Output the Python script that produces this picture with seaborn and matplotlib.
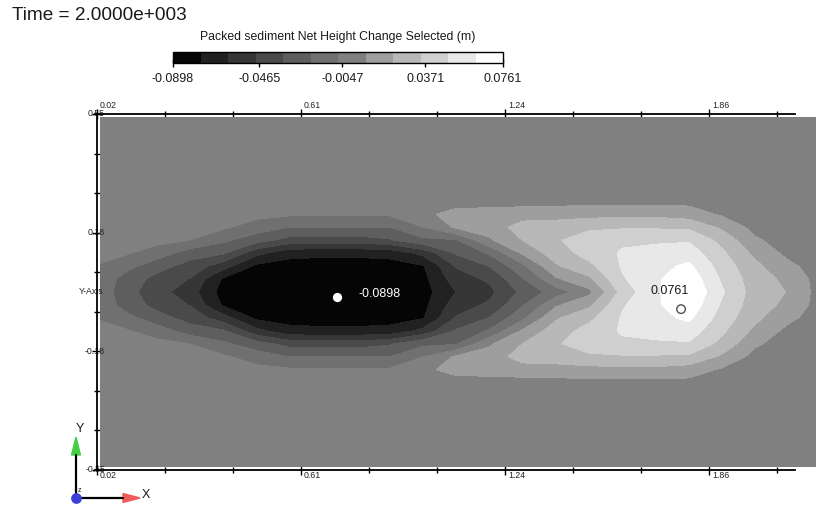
import numpy as np
import matplotlib
matplotlib.use("Agg")
import matplotlib.pyplot as plt
from matplotlib.colors import ListedColormap
import seaborn as sns

sns.set_theme(style="white")
plt.rcParams["font.family"] = ["Liberation Sans", "DejaVu Sans"]

# ---------------------------------------------------------------- data
time_label = "Time = 2.0000e+003"
field_title = "Packed sediment Net Height Change Selected (m)"

# streamwise sample stations (m) and lateral offsets from the centreline (m)
x_cols = [0.03, 0.10, 0.20, 0.30, 0.40, 0.50, 0.60, 0.70, 0.80, 0.90, 1.00, 1.10,
          1.20, 1.30, 1.40, 1.50, 1.60, 1.70, 1.80, 1.90, 2.00, 2.10, 2.20]
y_rows = [0.00, 0.04, 0.08, 0.12, 0.16, 0.20, 0.24, 0.28, 0.32, 0.538]

# extreme values of the net height change (mm)
z_min_mm = -89.8
z_max_mm = 76.1
min_loc = (0.742, -0.016)
max_loc = (1.776, -0.053)

# net height change (mm) along each lateral offset; the bed is symmetric about y = 0
dz_y000 = [-12, -28, -43, -56, -82, -86, -88, z_min_mm, -89, -87, -82, -62,
           -52, -31, -14, 3, 40, 60, z_max_mm, 50, 28, 20, 0]
dz_y004 = [-11, -25, -39, -49, -78, -83, -85, -86, -86, -85, -80, -55,
           -46, -22, 5, 18, 47, 60, 72, 46, 27, 17, 0]
dz_y008 = [-8, -15, -29, -40, -56, -79, -81, -82, -82, -81, -77, -47,
           -34, -10, 19, 31, 50, 58, 65, 42, 24, 10, 0]
dz_y012 = [-2, -5, -13, -28, -33, -58, -72, -73, -73, -72, -58, -33,
           -19, 9, 28, 40, 50, 54, 56, 37, 17, 3, 0]
dz_y016 = [0, -1, -3, -7, -18, -29, -40, -41, -41, -36, -24, -22,
           5, 21, 33, 42, 46, 46, 47, 30, 9, 0, 0]
dz_y020 = [0, 0, 0, -1, -5, -13, -21, -21, -21, -21, -7, 9,
           13, 27, 28, 32, 33, 33, 32, 18, 2, 0, 0]
dz_y024 = [0, 0, 0, 0, 0, -3, -5, -5, -5, -5, 3, 13,
           12, 14, 15, 16, 17, 17, 14, 5, 0, 0, 0]
dz_y028 = [0, 0, 0, 0, 0, 0, 0, 0, 0, 0, 1, 0,
           2, 2, 2, 3, 3, 3, 3, 0, 0, 0, 0]
dz_y032 = [0, 0, 0, 0, 0, 0, 0, 0, 0, 0, 0, 0,
           0, 0, 0, 0, 0, 0, 0, 0, 0, 0, 0]
dz_y054 = [0, 0, 0, 0, 0, 0, 0, 0, 0, 0, 0, 0,
           0, 0, 0, 0, 0, 0, 0, 0, 0, 0, 0]

cbar_ticks = [-0.0898, -0.0465, -0.0047, 0.0371, 0.0761]
x_tick_values = [0.02, 0.6333, 1.2467, 1.86]
x_tick_labels = ["0.02", "0.61", "1.24", "1.86"]
y_tick_values = [0.55, 0.1833, -0.1833, -0.55]
y_tick_labels = ["0.55", "0.18", "-0.18", "-0.55"]

# twelve grey bands, deepest scour (black) to highest deposit (white)
band_grays = [0.02, 0.13, 0.21, 0.29, 0.37, 0.44, 0.50, 0.62, 0.72, 0.81, 0.91, 1.00]

# ---------------------------------------------------------------- grid
upper = np.array([dz_y000, dz_y004, dz_y008, dz_y012, dz_y016, dz_y020,
                  dz_y024, dz_y028, dz_y032, dz_y054], dtype=float) / 1000.0
yr = np.array(y_rows)
Y = np.concatenate([-yr[::-1], yr[1:]])
Z = np.vstack([upper[::-1], upper[1:]])
X = np.array(x_cols)

z_min = z_min_mm / 1000.0
z_max = z_max_mm / 1000.0
levels = np.linspace(z_min, z_max, len(band_grays) + 1)
cmap = ListedColormap([(g, g, g) for g in band_grays])

# ---------------------------------------------------------------- figure
W, H = 816, 508
fig = plt.figure(figsize=(W / 100, H / 100), dpi=100)
fig.patch.set_facecolor("white")

px_per_x = 332.6
ax = fig.add_axes([97 / W, (H - 470) / H, 719 / W, 356 / H])
ax.set_facecolor("white")
cs = ax.contourf(X, Y, Z, levels=levels, cmap=cmap, zorder=1)
ax.set_xlim(0.02, 0.02 + 719 / px_per_x)
ax.set_ylim(-0.55, 0.55)

for side in ["top", "bottom", "left"]:
    ax.spines[side].set_visible(True)
    ax.spines[side].set_color("black")
    ax.spines[side].set_linewidth(1.3)
    ax.spines[side].set_zorder(5)
ax.spines["right"].set_visible(False)
x_end = 0.02 + (795 - 97) / px_per_x
ax.spines["top"].set_bounds(0.014, x_end)
ax.spines["bottom"].set_bounds(0.014, x_end)

step = (x_tick_values[-1] - x_tick_values[0]) / 9
ax.set_xticks(x_tick_values)
ax.set_xticks([x_tick_values[0] + k * step for k in range(11) if k % 3], minor=True)
ystep = (y_tick_values[0] - y_tick_values[-1]) / 9
ax.set_yticks(y_tick_values)
ax.set_yticks([y_tick_values[-1] + k * ystep for k in range(10) if k % 3], minor=True)
ax.tick_params(axis="x", which="both", top=True, bottom=True, direction="inout",
               labelbottom=False, labeltop=False, color="black", width=1)
ax.tick_params(axis="y", which="both", left=True, right=False, direction="inout",
               labelleft=False, color="black", width=1)
ax.tick_params(which="major", length=7)
ax.tick_params(which="minor", length=4)
ax.grid(False)

tick_fs = 6.3
xt = ax.get_xaxis_transform()
yt = ax.get_yaxis_transform()
for v, s in zip(x_tick_values, x_tick_labels):
    ax.text(v + 3 / px_per_x, 1 + 9 / 356, s, transform=xt, ha="left", va="center",
            fontsize=tick_fs, color="#222222", clip_on=False)
    ax.text(v + 3 / px_per_x, -6 / 356, s, transform=xt, ha="left", va="center",
            fontsize=tick_fs, color="#222222", clip_on=False)
for v, s in zip(y_tick_values, y_tick_labels):
    ax.text(8 / 719, v, s, transform=yt, ha="right", va="center",
            fontsize=tick_fs, color="#222222", clip_on=False)
ax.text(6 / 719, 0.0, "Y-Axis", transform=yt, ha="right", va="center",
        fontsize=tick_fs, color="#222222", clip_on=False)

# extreme value markers
ax.scatter([min_loc[0]], [min_loc[1]], s=32, color="white", edgecolor="white", zorder=6)
ax.scatter([max_loc[0]], [max_loc[1]], s=38, facecolor="none", edgecolor="#505050",
           linewidth=1.0, zorder=6)
ax.annotate(f"{z_min:.4f}", xy=min_loc, xytext=(21, 3), textcoords="offset pixels",
            ha="left", va="center", fontsize=9, color="white", zorder=7)
ax.annotate(f"{z_max:.4f}", xy=max_loc, xytext=(-31, 18), textcoords="offset pixels",
            ha="left", va="center", fontsize=9, color="#1a1a1a", zorder=7)

# colour bar
cax = fig.add_axes([173 / W, (H - 63) / H, 330 / W, 11 / H])
cb = fig.colorbar(cs, cax=cax, orientation="horizontal", ticks=cbar_ticks)
cb.set_ticklabels([f"{t:.4f}" for t in cbar_ticks])
cb.outline.set_edgecolor("black")
cb.outline.set_linewidth(1.0)
cax.tick_params(direction="inout", length=6, width=1, color="black",
                labelsize=9, pad=4, labelcolor="#1a1a1a")

fig.text(338 / W, 1 - 37 / H, field_title, ha="center", va="center",
         fontsize=8.8, color="#1a1a1a")
fig.text(12 / W, 1 - 15 / H, time_label, ha="left", va="center",
         fontsize=13.7, color="#1a1a1a")

# orientation triad in pixel space
ov = fig.add_axes([0, 0, 1, 1], zorder=10)
ov.set_xlim(0, W)
ov.set_ylim(H, 0)
ov.axis("off")
ov.patch.set_alpha(0)
ov.plot([76, 76], [498, 455], color="black", lw=1.6)
ov.fill([71.5, 80.5, 76], [455, 455, 437], color="#44d044")
ov.plot([76, 123], [498, 498], color="black", lw=1.6)
ov.fill([123, 123, 140], [493.5, 502.5, 498], color="#f05a5a")
ov.scatter([76], [498], s=45, color="#3d3dd8", zorder=3)
ov.text(80, 429, "Y", fontsize=9, ha="center", va="center", color="#1a1a1a")
ov.text(146, 495, "X", fontsize=9, ha="center", va="center", color="#1a1a1a")
ov.text(80, 490, "z", fontsize=5, ha="center", va="center", color="#1a1a1a")

fig.savefig("out.png", dpi=100, facecolor="white")
